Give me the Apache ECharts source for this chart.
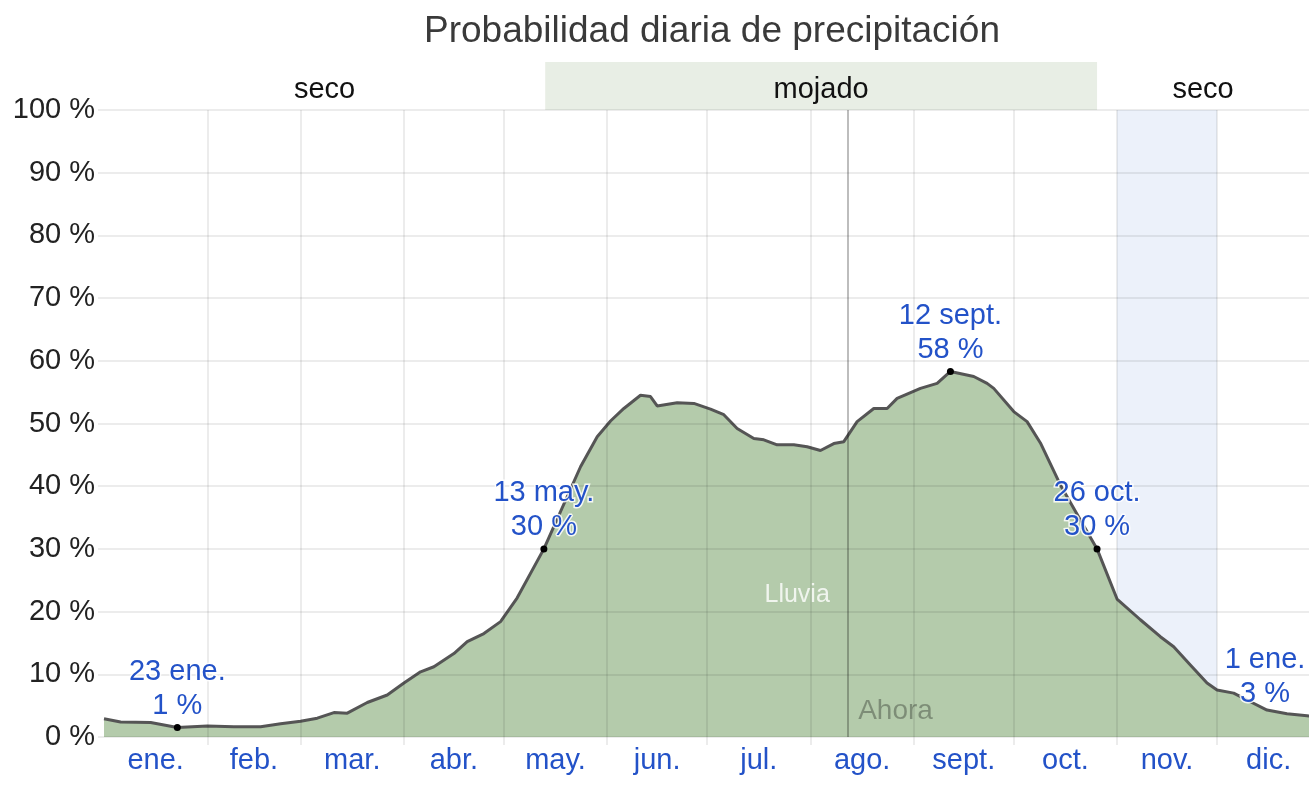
<!DOCTYPE html>
<html>
<head>
<meta charset="utf-8">
<script src="https://cdn.jsdelivr.net/npm/echarts@6/dist/echarts.min.js"></script>
<style>
  html, body { margin: 0; padding: 0; background: #fff; }
  #container { width: 1309px; height: 799px; }
</style>
</head>
<body>
<div id="container"></div>
<script>
// dia del año (0 = 1 ene.) y probabilidad de lluvia (%)
var days = [0, 5, 14, 22, 31, 39, 47, 53, 59, 64, 69, 73, 79, 85, 90, 95, 99, 105, 109, 114,
    119, 124, 132, 143, 148, 152, 156, 161, 164, 166, 172, 177, 182, 186, 190, 195, 198, 202,
    207, 211, 215, 219, 222, 226, 231, 235, 238, 245, 250, 254, 261, 265, 267, 273, 277, 281,
    287, 293, 298, 304, 311, 317, 321, 326, 331, 334, 339, 343, 349, 355, 361, 365];
var rainPct = [2.9, 2.4, 2.3, 1.5, 1.75, 1.65, 1.65, 2.1, 2.5, 3.0, 3.9, 3.8, 5.5, 6.7, 8.6, 10.4, 11.2, 13.3, 15.2, 16.5,
    18.4, 22.2, 30.0, 43.1, 47.9, 50.4, 52.4, 54.5, 54.3, 52.8, 53.3, 53.2, 52.3, 51.4, 49.2, 47.6, 47.4, 46.6,
    46.6, 46.3, 45.7, 46.8, 47.1, 50.3, 52.4, 52.4, 54.0, 55.6, 56.4, 58.3, 57.5, 56.4, 55.6, 51.9, 50.3, 46.9,
    40.2, 34.6, 30.0, 22.0, 18.7, 16.0, 14.4, 11.5, 8.6, 7.5, 7.0, 5.9, 4.3, 3.7, 3.4, 3.0];

var monthNames = ['ene.', 'feb.', 'mar.', 'abr.', 'may.', 'jun.', 'jul.', 'ago.', 'sept.', 'oct.', 'nov.', 'dic.'];
var monthStarts = [0, 31, 59, 90, 120, 151, 181, 212, 243, 273, 304, 334, 365];
var monthMids = [15.5, 45, 74.5, 105, 135.5, 166, 196.5, 227.5, 258, 288.5, 319, 349.5];

// estaciones (banda superior)
var seasonNames = ['seco', 'mojado', 'seco'];
var seasonFrom = [0, 132.4, 298];
var seasonTo = [132.4, 298, 365];

// puntos destacados
var pointDays = [22, 132, 254, 298, 365];
var pointDates = ['23 ene.', '13 may.', '12 sept.', '26 oct.', '1 ene.'];
var pointTexts = ['1 %', '30 %', '58 %', '30 %', '3 %'];

var nowDay = 223.3;
var currentMonth = 10; // nov.
var visibleDays = 361.6; // el gráfico original está recortado a la derecha

var fontFamily = '"Liberation Sans", Arial, sans-serif';
var blue = '#2352c8';

var lineData = days.map(function (d, i) { return [d, rainPct[i]]; });

var markPoints = pointDays.map(function (d, i) {
    var item = {
        name: pointDates[i],
        coord: [d, rainPct[days.indexOf(d)]],
        label: { formatter: pointDates[i] + '\n' + pointTexts[i] }
    };
    if (d > visibleDays) {
        // el punto queda fuera del recorte: solo se ve la etiqueta
        item.coord[0] = visibleDays;
        item.symbolSize = 0;
        item.label.offset = [-44, -6];
    }
    return item;
});

var myChart = echarts.init(document.getElementById('container'));
var option = {
    animation: false,
    textStyle: { fontFamily: fontFamily },
    title: {
        text: 'Probabilidad diaria de precipitación',
        left: 712,
        top: 13,
        textAlign: 'center',
        padding: 0,
        textStyle: { fontSize: 37, fontWeight: 'normal', color: '#3a3a3a', fontFamily: fontFamily }
    },
    grid: [
        { left: 104, right: 0, top: 110, bottom: 62 },
        { left: 104, right: 0, top: 62, height: 48 }
    ],
    xAxis: [
        {
            type: 'value', gridIndex: 0, min: 0, max: visibleDays, z: 4,
            axisLine: { show: false },
            axisTick: {
                show: true, length: 8, customValues: monthStarts.slice(1, 12),
                lineStyle: { color: 'rgba(0,0,0,0.1)', width: 1.5 }
            },
            splitLine: { show: true, lineStyle: { color: 'rgba(0,0,0,0.1)', width: 1.5 } },
            axisLabel: {
                customValues: monthMids,
                margin: 9,
                fontSize: 29,
                color: blue,
                formatter: function (v) {
                    var best = 0;
                    for (var i = 0; i < monthMids.length; i++) {
                        if (Math.abs(monthMids[i] - v) < Math.abs(monthMids[best] - v)) best = i;
                    }
                    return monthNames[best];
                }
            }
        },
        { type: 'value', gridIndex: 1, min: 0, max: visibleDays, show: false }
    ],
    yAxis: [
        {
            type: 'value', gridIndex: 0, min: 0, max: 100, interval: 10, z: 4,
            axisLine: { show: false },
            axisTick: { show: true, length: 6, lineStyle: { color: 'rgba(0,0,0,0.1)', width: 1.5 } },
            splitLine: { lineStyle: { color: 'rgba(0,0,0,0.1)', width: 1.5 } },
            axisLabel: { formatter: '{value} %', fontSize: 29, color: '#222', margin: 9 }
        },
        { type: 'value', gridIndex: 1, min: 0, max: 1, show: false }
    ],
    series: [
        {
            name: 'Lluvia',
            type: 'line',
            data: lineData,
            showSymbol: false,
            clip: false,
            z: 2,
            lineStyle: { color: '#555', width: 3 },
            areaStyle: { color: '#b4cbab', opacity: 1 },
            markLine: {
                silent: true,
                symbol: 'none',
                label: { show: false },
                lineStyle: { color: 'rgba(0,0,0,0.35)', width: 1.5, type: 'solid' },
                data: [{ xAxis: nowDay }]
            },
            markPoint: {
                symbol: 'circle',
                symbolSize: 7,
                itemStyle: { color: '#000' },
                label: {
                    position: 'top',
                    distance: 1,
                    fontSize: 29,
                    lineHeight: 34,
                    color: blue,
                    textBorderColor: 'rgba(255,255,255,0.85)',
                    textBorderWidth: 3
                },
                data: markPoints
            }
        },
        {
            // mes actual + textos de la serie
            type: 'line',
            data: [],
            z: 3,
            markArea: {
                silent: true,
                itemStyle: { color: 'rgba(30,90,200,0.085)' },
                data: [[{ xAxis: monthStarts[currentMonth] }, { xAxis: monthStarts[currentMonth + 1] }]]
            },
            markPoint: {
                symbol: 'circle',
                symbolSize: 0,
                data: [
                    {
                        coord: [208, 22.6],
                        label: { show: true, formatter: 'Lluvia', fontSize: 25, color: 'rgba(255,255,255,0.8)', position: 'inside' }
                    },
                    {
                        coord: [nowDay, 0],
                        label: { show: true, formatter: 'Ahora', fontSize: 28, color: 'rgba(0,0,0,0.3)', position: 'inside', align: 'left', offset: [10, -26] }
                    }
                ]
            }
        },
        {
            type: 'line',
            xAxisIndex: 1,
            yAxisIndex: 1,
            data: [[0, 0]],
            showSymbol: false,
            lineStyle: { opacity: 0 },
            markArea: {
                silent: true,
                label: { position: 'inside', fontSize: 29, color: '#111', offset: [0, 4] },
                data: seasonNames.map(function (n, i) {
                    return [
                        { name: n, xAxis: seasonFrom[i], itemStyle: { color: n === 'mojado' ? '#e8eee5' : 'rgba(0,0,0,0)' } },
                        { xAxis: seasonTo[i] }
                    ];
                })
            }
        }
    ]
};
myChart.setOption(option);
</script>
</body>
</html>
